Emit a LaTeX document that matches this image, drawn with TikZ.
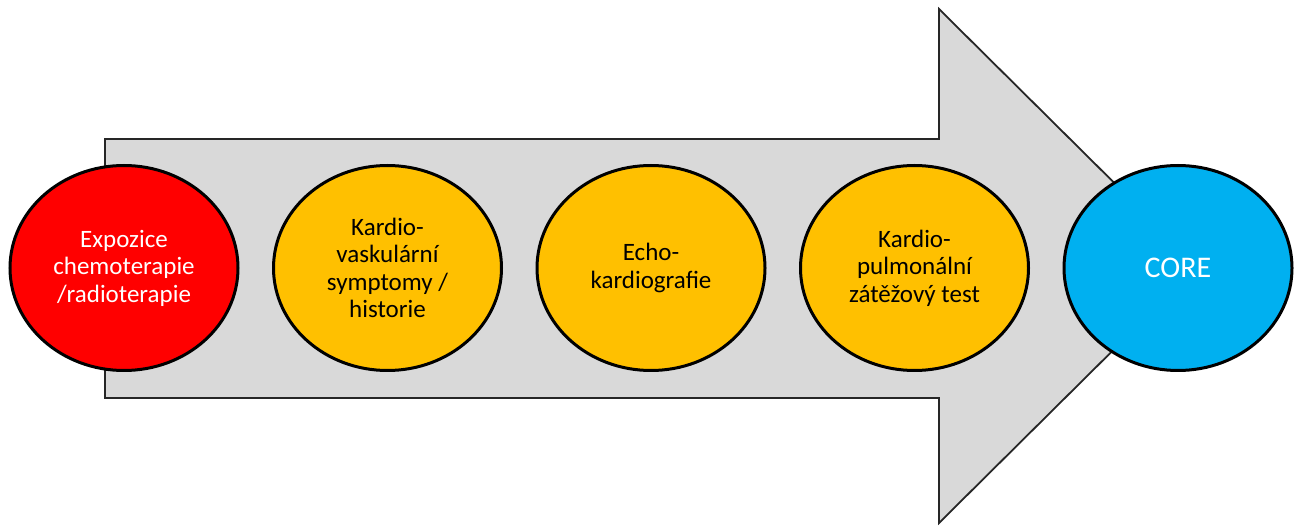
\documentclass[tikz,border=0pt]{standalone}
\usepackage{fontspec}
\setmainfont{Carlito}
\usetikzlibrary{shapes.geometric,positioning}
\definecolor{redx}{HTML}{FF0000}
\definecolor{orx}{HTML}{FFC000}
\definecolor{blx}{HTML}{00B0F0}
\definecolor{grx}{HTML}{D9D9D9}
\tikzset{
    stage/.style={ellipse,draw=black,line width=3pt,inner sep=0pt,
        minimum width=228pt,minimum height=205pt,align=center,
        font=\fontsize{25}{27.5}\selectfont},
    bigarrow/.style={fill=grx,draw=black!85,line width=1.8pt,line join=miter}
}
\begin{document}
\begin{tikzpicture}[x=1pt,y=-1pt,node distance=32.5pt]
    \useasboundingbox (0,0) rectangle (1304,526);
    % arrow behind the stages
    \draw[bigarrow] (105,139) -- (939,139) -- (939,9) -- (1198,266)
        -- (939,523) -- (939,398) -- (105,398) -- cycle;
    \node [stage,fill=redx,text=white] (expo) at (124,268)
        {Expozice\\chemoterapie\\/radioterapie};
    \node [stage,fill=orx,right=of expo] (symp)
        {Kardio-\\vaskulární\\symptomy /\\historie};
    \node [stage,fill=orx,right=of symp] (echo)
        {Echo-\\kardiografie};
    \node [stage,fill=orx,right=of echo] (cpet)
        {Kardio-\\pulmonální\\zátěžový test};
    \node [stage,fill=blx,text=white,font=\fontsize{30}{33}\selectfont,
        right=of cpet] (core) {CORE};
\end{tikzpicture}
\end{document}
